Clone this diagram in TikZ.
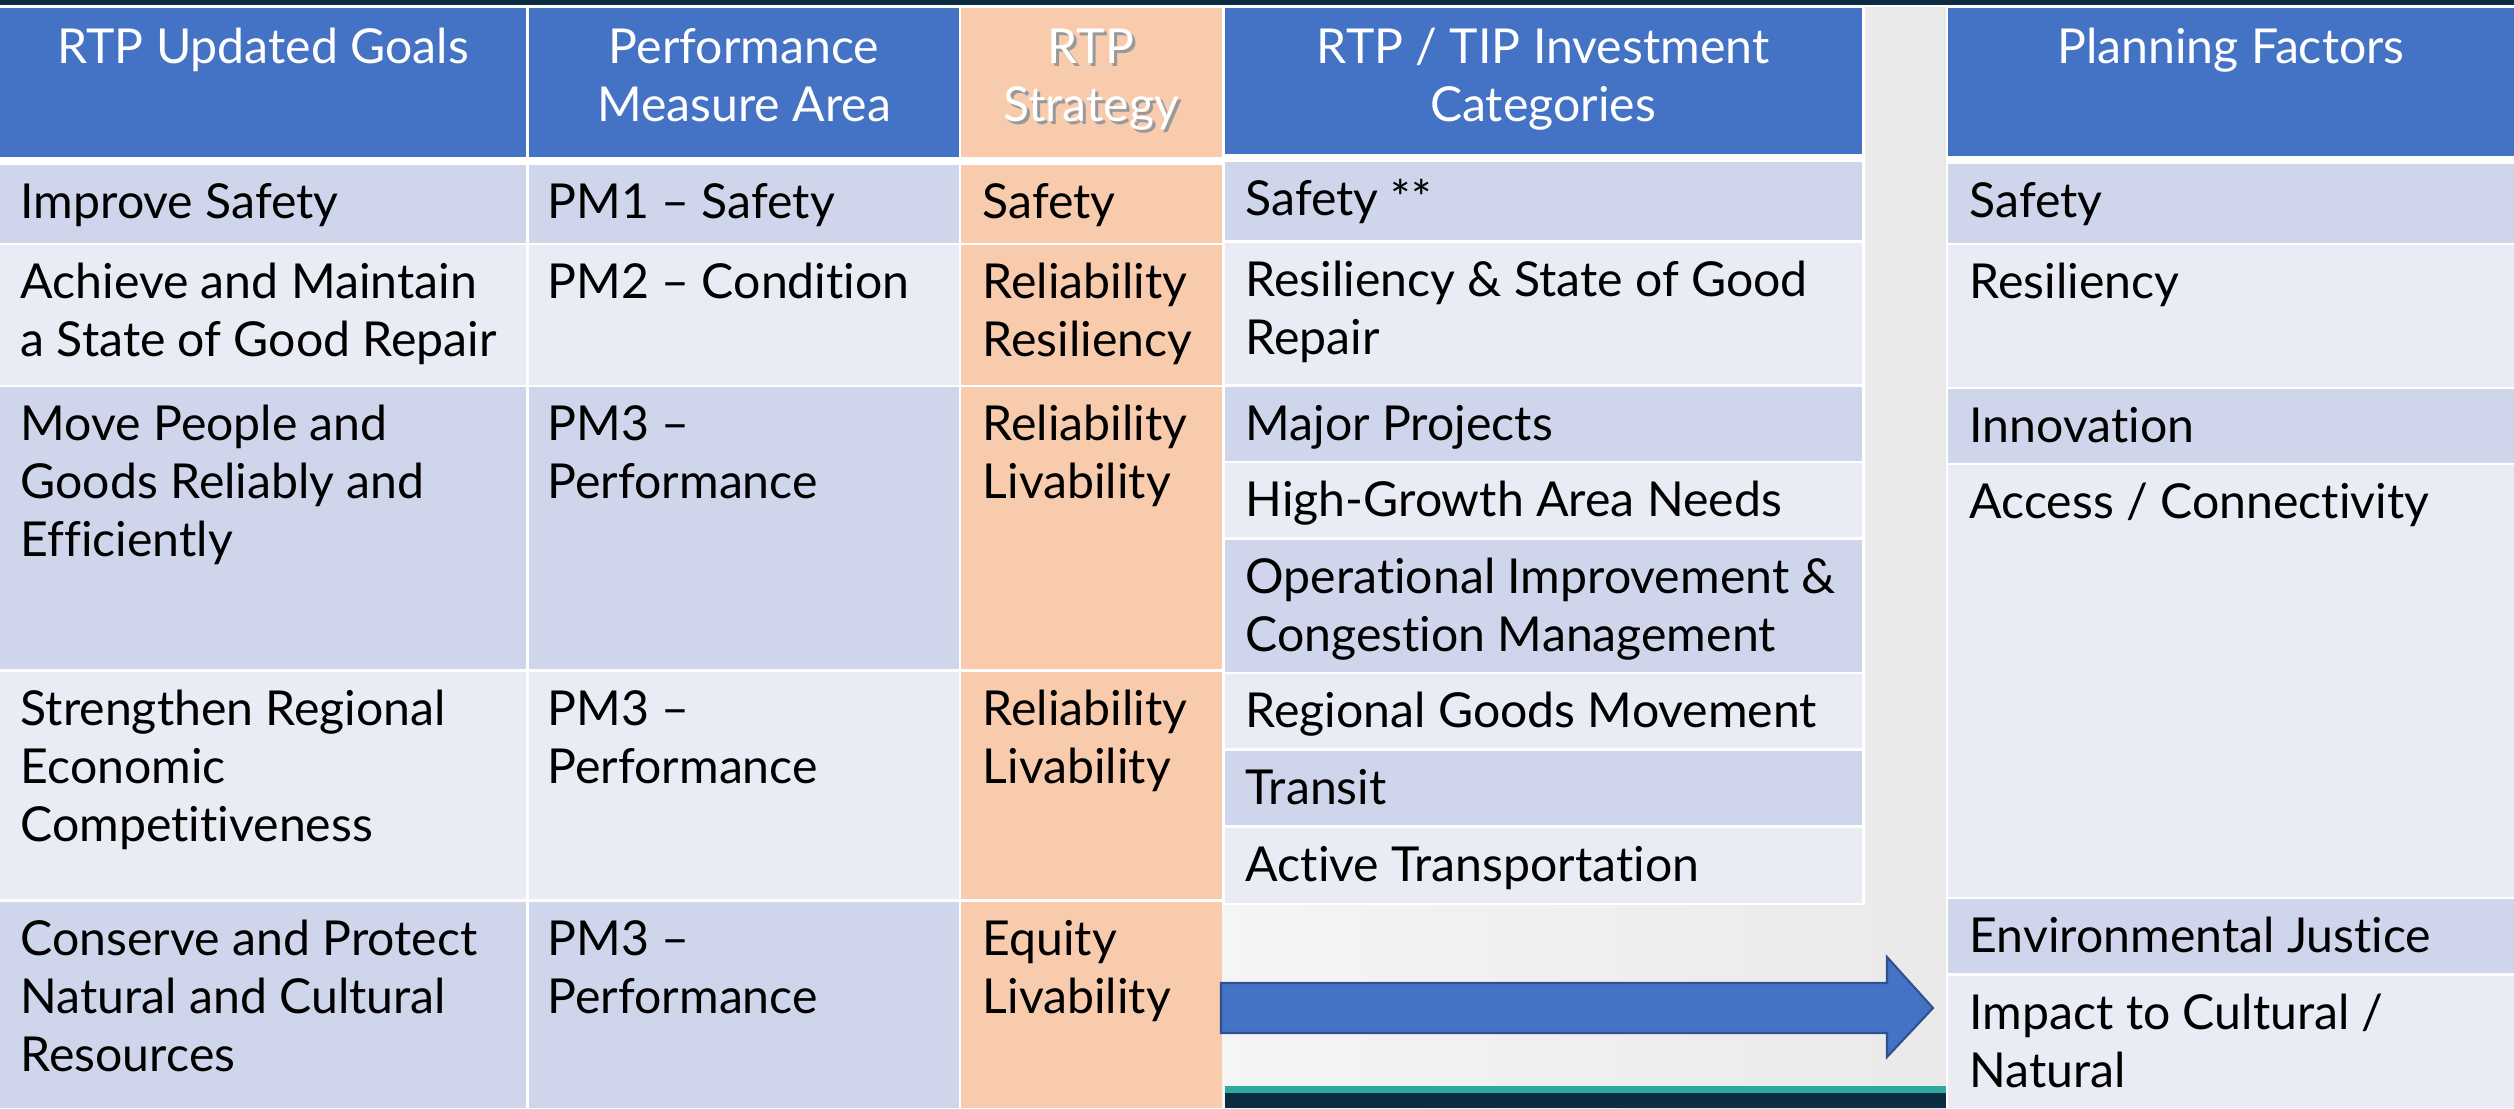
\documentclass[tikz,border=0pt]{standalone}
\usepackage{fontspec}
\setmainfont{Lato}[Ligatures=CommonOff]
\usepackage{tikz}
\usetikzlibrary{positioning}

\definecolor{hdrblue}{HTML}{4472C4}
\definecolor{rowdark}{HTML}{CFD5EA}
\definecolor{rowlight}{HTML}{E9EBF5}
\definecolor{peach}{HTML}{F8CBAD}
\definecolor{navyband}{HTML}{0B2C42}
\definecolor{tealband}{HTML}{2FA89E}
\definecolor{arrowline}{HTML}{2F528F}
\newcommand{\tablefont}{\fontsize{13.7pt}{16.5pt}\selectfont}
\newcommand{\tstrut}{\rule{0pt}{0.53cm}}

\begin{document}
\begin{tikzpicture}[x=0.01cm,y=-0.01cm,
  head node/.style={anchor=north,inner sep=0pt,align=center,text=white,font=\tablefont},
  shadow node/.style={head node,text=black!40},
  cell node/.style={anchor=north west,inner sep=0pt,align=left,text=black,font=\tablefont}]
  \useasboundingbox (0,0) rectangle (2514,1108);
  \fill[white] (0,0) rectangle (2514,1108);
  \fill[navyband] (0,0) rectangle (2514,5);

  % gray backdrop between the tables
  \shade[left color=gray!8,right color=gray!17] (1222,7) rectangle (1946,1108);
  \fill[white] (1222,7) rectangle (1865,905);
  \fill[tealband] (1225,1086) rectangle (1946,1093);
  \fill[navyband] (1225,1093) rectangle (1946,1108);

  % header row
  \fill[hdrblue] (0,8) rectangle (526,157);
  \fill[hdrblue] (529,8) rectangle (959,157);
  \fill[peach] (961,8) rectangle (1222,157);
  \fill[hdrblue] (1225,8) rectangle (1862,154);
  \fill[hdrblue] (1948,8) rectangle (2514,156);

  % goals / measures / strategies
  \fill[rowdark] (0,165) rectangle (526,243);
  \fill[rowdark] (529,165) rectangle (959,243);
  \fill[rowlight] (0,245) rectangle (526,385);
  \fill[rowlight] (529,245) rectangle (959,385);
  \fill[rowdark] (0,387) rectangle (526,669);
  \fill[rowdark] (529,387) rectangle (959,669);
  \fill[rowlight] (0,672) rectangle (526,899);
  \fill[rowlight] (529,672) rectangle (959,899);
  \fill[rowdark] (0,902) rectangle (526,1108);
  \fill[rowdark] (529,902) rectangle (959,1108);
  \fill[peach] (961,165) rectangle (1222,243);
  \fill[peach] (961,245) rectangle (1222,385);
  \fill[peach] (961,387) rectangle (1222,669);
  \fill[peach] (961,672) rectangle (1222,899);
  \fill[peach] (961,902) rectangle (1222,1108);

  % investment categories
  \fill[rowdark] (1225,162) rectangle (1862,240);
  \fill[rowlight] (1225,243) rectangle (1862,384);
  \fill[rowdark] (1225,387) rectangle (1862,461);
  \fill[rowlight] (1225,463) rectangle (1862,537);
  \fill[rowdark] (1225,540) rectangle (1862,672);
  \fill[rowlight] (1225,674) rectangle (1862,748);
  \fill[rowdark] (1225,751) rectangle (1862,825);
  \fill[rowlight] (1225,828) rectangle (1862,903);

  % planning factors
  \fill[rowdark] (1948,164) rectangle (2514,243);
  \fill[rowlight] (1948,245) rectangle (2514,387);
  \fill[rowdark] (1948,389) rectangle (2514,463);
  \fill[rowlight] (1948,465) rectangle (2514,897);
  \fill[rowdark] (1948,899) rectangle (2514,973);
  \fill[rowlight] (1948,976) rectangle (2514,1108);

  \node[head node] (h1) at (263,10) {\tstrut RTP Updated Goals};
  \node[head node] (h2) at (744,10) {\tstrut Performance\\Measure Area};
  \node[shadow node] (h3s) at (1094,13) {\tstrut RTP\\Strategy};
  \node[head node] (h3) at (1091,10) {\tstrut RTP\\Strategy};
  \node[head node] (h4) at (1543,10) {\tstrut RTP / TIP Investment\\Categories};
  \node[head node] (h5) at (2231,10) {\tstrut Planning Factors};

  \node[cell node] (g1) at (20,165) {\tstrut Improve Safety};
  \node[cell node] (g2) at (20,245) {\tstrut Achieve and Maintain\\a State of Good Repair};
  \node[cell node] (g3) at (20,387) {\tstrut Move People and\\Goods Reliably and\\Efficiently};
  \node[cell node] (g4) at (20,672) {\tstrut Strengthen Regional\\Economic\\Competitiveness};
  \node[cell node] (g5) at (20,902) {\tstrut Conserve and Protect\\Natural and Cultural\\Resources};

  \node[cell node] (pm1) at (547,165) {\tstrut PM1 -- Safety};
  \node[cell node] (pm2) at (547,245) {\tstrut PM2 -- Condition};
  \node[cell node] (pm3) at (547,387) {\tstrut PM3 --\\Performance};
  \node[cell node] (pm4) at (547,672) {\tstrut PM3 --\\Performance};
  \node[cell node] (pm5) at (547,902) {\tstrut PM3 --\\Performance};

  \node[cell node] (st1) at (982,165) {\tstrut Safety};
  \node[cell node] (st2) at (982,245) {\tstrut Reliability\\Resiliency};
  \node[cell node] (st3) at (982,387) {\tstrut Reliability\\Livability};
  \node[cell node] (st4) at (982,672) {\tstrut Reliability\\Livability};
  \node[cell node] (st5) at (982,902) {\tstrut Equity\\Livability};

  \node[cell node] (ic1) at (1245,162) {\tstrut Safety **};
  \node[cell node] (ic2) at (1245,243) {\tstrut Resiliency \& State of Good\\Repair};
  \node[cell node] (ic3) at (1245,387) {\tstrut Major Projects};
  \node[cell node] (ic4) at (1245,463) {\tstrut High-Growth Area Needs};
  \node[cell node] (ic5) at (1245,540) {\tstrut Operational Improvement \&\\Congestion Management};
  \node[cell node] (ic6) at (1245,674) {\tstrut Regional Goods Movement};
  \node[cell node] (ic7) at (1245,751) {\tstrut Transit};
  \node[cell node] (ic8) at (1245,828) {\tstrut Active Transportation};

  \node[cell node] (pf1) at (1969,164) {\tstrut Safety};
  \node[cell node] (pf2) at (1969,245) {\tstrut Resiliency};
  \node[cell node] (pf3) at (1969,389) {\tstrut Innovation};
  \node[cell node] (pf4) at (1969,465) {\tstrut Access / Connectivity};
  \node[cell node] (pf5) at (1969,899) {\tstrut Environmental Justice};
  \node[cell node] (pf6) at (1969,976) {\tstrut Impact to Cultural /\\Natural};

  % block arrow towards the planning factors
  \draw[fill=hdrblue,draw=arrowline,line width=0.6pt]
    (1221,983) -- (1887,983) -- (1887,957) -- (1933,1008)
    -- (1887,1057) -- (1887,1033) -- (1221,1033) -- cycle;
\end{tikzpicture}
\end{document}
